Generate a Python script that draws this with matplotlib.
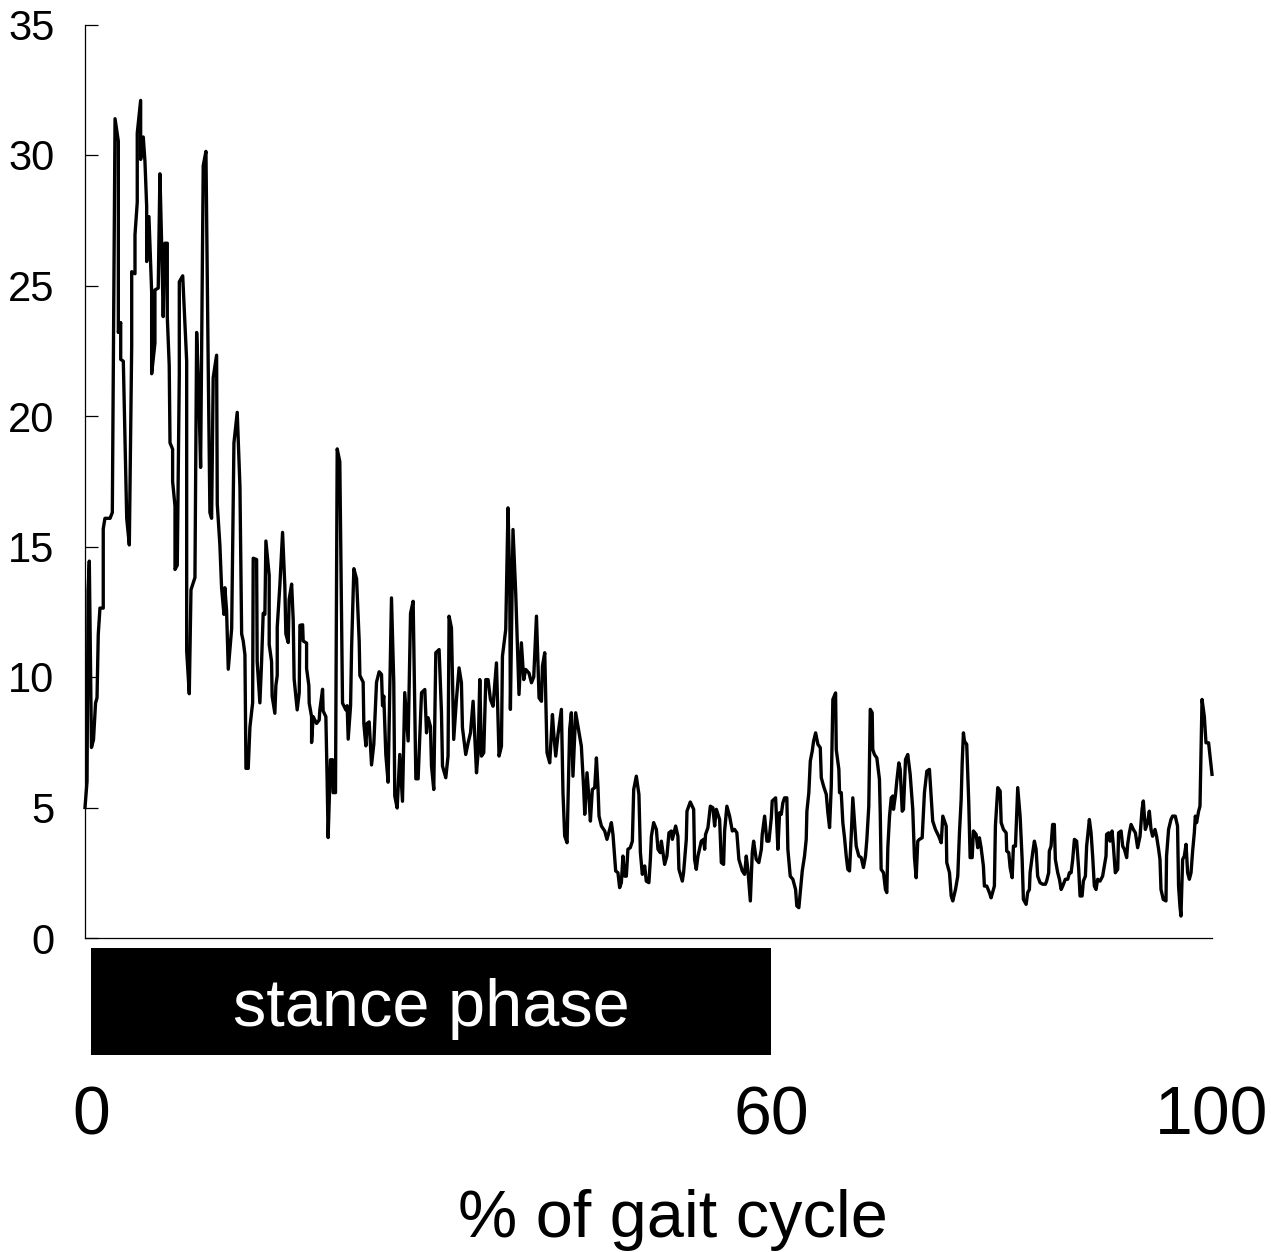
import matplotlib
matplotlib.use("Agg")
import matplotlib.pyplot as plt
import matplotlib.transforms as mtransforms
from matplotlib.patches import Rectangle

plt.rcParams['font.family'] = ['Liberation Sans', 'DejaVu Sans']

# % of gait cycle (x) and signal value (y)
gait_pct = [
    -0.53, -0.35, -0.26, -0.15, 0.04, 0.22, 0.40, 0.53, 0.64, 0.79,
    1.08, 1.08, 1.23, 1.68, 1.88, 2.12, 2.41, 2.41, 2.62, 2.62,
    2.85, 3.15, 3.38, 3.59, 3.59, 3.88, 3.88, 4.08, 4.08, 4.38,
    4.38, 4.61, 4.76, 4.91, 4.91, 5.11, 5.35, 5.35, 5.64, 5.64,
    5.93, 6.08, 6.23, 6.37, 6.52, 6.73, 6.73, 6.90, 6.97, 7.20,
    7.20, 7.41, 7.41, 7.61, 7.79, 7.79, 8.09, 8.44, 8.44, 8.67,
    8.82, 9.17, 9.32, 9.52, 9.67, 9.90, 10.14, 10.34, 10.49, 10.64,
    10.78, 11.08, 11.14, 11.37, 11.52, 11.73, 11.81, 11.96, 12.11, 12.41,
    12.61, 12.90, 13.14, 13.29, 13.43, 13.58, 13.67, 13.87, 14.02, 14.26,
    14.31, 14.61, 14.66, 14.90, 15.05, 15.19, 15.34, 15.43, 15.72, 15.72,
    15.93, 15.98, 16.22, 16.31, 16.43, 16.43, 16.66, 16.90, 17.10, 17.19,
    17.40, 17.48, 17.70, 17.84, 17.92, 18.19, 18.37, 18.43, 18.67, 18.72,
    19.02, 19.02, 19.22, 19.25, 19.46, 19.46, 19.60, 19.90, 20.13, 20.19,
    20.43, 20.48, 20.72, 20.83, 20.92, 21.13, 21.31, 21.36, 21.57, 21.72,
    21.95, 22.19, 22.48, 22.60, 22.69, 22.90, 22.99, 23.19, 23.43, 23.66,
    23.72, 24.01, 24.07, 24.25, 24.36, 24.54, 24.75, 24.95, 25.19, 25.42,
    25.63, 25.72, 25.83, 26.01, 26.21, 26.51, 26.71, 26.80, 27.01, 27.24,
    27.48, 27.68, 27.98, 28.19, 28.42, 28.66, 28.86, 29.16, 29.45, 29.60,
    29.74, 29.95, 30.04, 30.24, 30.42, 30.71, 30.92, 31.01, 31.30, 31.50,
    31.59, 31.80, 32.00, 32.24, 32.47, 32.68, 32.77, 33.06, 33.27, 33.48,
    33.71, 34.01, 34.15, 34.30, 34.45, 34.65, 34.83, 35.03, 35.24, 35.47,
    35.77, 36.00, 36.21, 36.30, 36.59, 36.79, 36.94, 37.00, 37.23, 37.47,
    37.76, 37.97, 38.18, 38.35, 38.64, 38.86, 39.06, 39.30, 39.53, 39.74,
    39.83, 40.03, 40.23, 40.47, 40.71, 40.82, 41.00, 41.20, 41.50, 41.64,
    41.79, 42.00, 42.23, 42.38, 42.52, 42.76, 43.26, 43.47, 43.56, 43.76,
    43.94, 44.06, 44.23, 44.44, 44.59, 44.73, 44.82, 45.03, 45.32, 45.52,
    45.76, 45.91, 46.05, 46.29, 46.49, 46.64, 46.79, 46.93, 47.08, 47.23,
    47.37, 47.58, 47.76, 47.88, 48.11, 48.34, 48.47, 48.64, 48.85, 48.99,
    49.22, 49.35, 49.44, 49.64, 49.88, 50.02, 50.23, 50.32, 50.46, 50.61,
    50.81, 50.99, 51.20, 51.29, 51.58, 51.78, 51.87, 52.17, 52.28, 52.52,
    52.58, 52.87, 53.17, 53.25, 53.40, 53.55, 53.84, 54.05, 54.14, 54.22,
    54.43, 54.64, 54.87, 55.02, 55.17, 55.46, 55.61, 55.81, 55.90, 56.10,
    56.34, 56.58, 56.78, 56.98, 57.16, 57.46, 57.66, 57.81, 57.95, 58.17,
    58.34, 58.46, 58.69, 58.92, 59.14, 59.22, 59.43, 59.63, 59.81, 60.02,
    60.10, 60.40, 60.60, 60.75, 60.90, 61.04, 61.19, 61.39, 61.48, 61.69,
    61.92, 62.16, 62.27, 62.45, 62.57, 62.75, 62.95, 63.10, 63.16, 63.33,
    63.46, 63.63, 63.75, 63.93, 64.13, 64.34, 64.43, 64.63, 64.87, 65.01,
    65.16, 65.31, 65.45, 65.69, 65.75, 65.98, 66.04, 66.19, 66.33, 66.48,
    66.63, 66.77, 66.92, 67.07, 67.21, 67.36, 67.51, 67.74, 67.95, 68.15,
    68.33, 68.45, 68.62, 68.75, 68.92, 68.97, 69.12, 69.33, 69.56, 69.63,
    69.71, 69.92, 70.09, 70.21, 70.30, 70.45, 70.60, 70.74, 70.80, 70.98,
    71.09, 71.27, 71.39, 71.57, 71.68, 71.86, 72.06, 72.27, 72.50, 72.65,
    72.80, 72.94, 73.09, 73.33, 73.53, 73.74, 73.97, 74.12, 74.26, 74.50,
    74.79, 75.01, 75.15, 75.45, 75.50, 75.74, 75.89, 76.03, 76.27, 76.47,
    76.62, 76.77, 76.86, 76.97, 77.06, 77.26, 77.44, 77.56, 77.74, 77.85,
    78.09, 78.23, 78.38, 78.53, 78.73, 78.82, 79.03, 79.26, 79.41, 79.70,
    79.79, 80.00, 80.21, 80.30, 80.50, 80.74, 80.79, 80.97, 81.09, 81.27,
    81.38, 81.56, 81.76, 81.97, 82.15, 82.26, 82.50, 82.64, 82.79, 82.85,
    83.08, 83.23, 83.38, 83.52, 83.73, 83.96, 84.20, 84.31, 84.49, 84.55,
    84.70, 84.84, 84.99, 85.08, 85.29, 85.44, 85.59, 85.73, 85.96, 86.17,
    86.32, 86.47, 86.61, 86.76, 86.96, 87.14, 87.26, 87.44, 87.55, 87.73,
    87.84, 88.08, 88.23, 88.37, 88.52, 88.67, 88.81, 89.02, 89.25, 89.40,
    89.55, 89.60, 89.78, 89.90, 90.08, 90.20, 90.37, 90.58, 90.66, 90.88,
    91.02, 91.17, 91.37, 91.46, 91.61, 91.76, 91.96, 92.14, 92.34, 92.55,
    92.73, 92.84, 93.02, 93.22, 93.37, 93.52, 93.66, 93.87, 94.01, 94.19,
    94.31, 94.40, 94.60, 94.84, 94.89, 95.07, 95.28, 95.42, 95.66, 95.86,
    95.95, 96.07, 96.16, 96.31, 96.46, 96.61, 96.75, 96.90, 97.05, 97.19,
    97.34, 97.43, 97.54, 97.72, 97.84, 98.02, 98.22, 98.37, 98.60, 98.90,
]

signal = [
    5.0, 6.0, 13.3, 14.44, 7.3, 7.6, 9.0, 9.2, 11.63, 12.64,
    12.64, 15.68, 16.08, 16.08, 16.3, 31.39, 30.53, 23.2, 23.58, 22.17,
    22.1, 16.08, 15.06, 22.72, 25.53, 25.45, 26.94, 28.19, 30.84, 32.09,
    29.83, 30.69, 29.75, 28.03, 25.92, 27.64, 24.75, 21.62, 22.79, 24.83,
    24.9, 29.28, 26.62, 23.81, 26.62, 26.62, 23.81, 21.94, 18.97, 18.73,
    17.49, 16.55, 14.12, 14.28, 21.62, 25.14, 25.37, 22.1, 11.0, 9.36,
    13.34, 13.81, 23.2, 20.69, 18.03, 29.59, 30.14, 21.94, 16.3, 16.08,
    21.47, 22.33, 16.62, 15.06, 13.42, 12.4, 13.42, 12.56, 10.3, 11.86,
    18.97, 20.14, 17.3, 11.65, 11.38, 10.85, 6.5, 6.5, 8.08, 9.01,
    14.55, 14.5, 10.59, 9.01, 10.59, 12.44, 12.4, 15.21, 13.89, 11.25,
    10.59, 9.27, 8.61, 9.67, 10.06, 11.91, 13.5, 15.54, 13.5, 11.65,
    11.32, 12.97, 13.56, 12.17, 9.93, 8.74, 9.4, 11.98, 12.0, 11.38,
    11.3, 10.33, 9.67, 9.0, 8.48, 7.49, 8.48, 8.22, 8.35, 8.74,
    9.53, 8.7, 8.48, 6.1, 3.85, 6.83, 6.83, 5.57, 5.57, 18.74,
    18.25, 9.0, 8.74, 8.9, 7.62, 8.9, 11.12, 14.15, 13.76, 11.38,
    10.06, 9.8, 8.22, 7.36, 8.22, 8.28, 6.63, 7.43, 9.8, 10.2,
    10.1, 8.9, 9.27, 7.03, 5.97, 13.03, 9.8, 5.44, 4.98, 7.03,
    5.24, 9.4, 7.55, 12.44, 12.9, 6.1, 6.1, 9.4, 9.52, 7.86,
    8.44, 8.1, 6.59, 5.69, 10.93, 11.05, 8.63, 6.59, 6.14, 6.97,
    12.33, 11.88, 7.61, 9.14, 10.35, 9.78, 8.06, 7.03, 7.48, 7.86,
    9.07, 6.33, 7.1, 9.9, 6.97, 7.1, 9.9, 9.9, 9.14, 8.88,
    10.54, 6.97, 7.35, 10.8, 11.82, 16.48, 13.73, 8.76, 15.65, 13.22,
    9.33, 11.31, 9.9, 10.29, 10.15, 9.78, 10.0, 12.33, 9.2, 9.07,
    10.42, 10.93, 7.1, 6.71, 8.56, 7.86, 6.97, 7.8, 8.76, 5.57,
    3.91, 3.65, 8.0, 8.63, 6.2, 8.63, 7.35, 5.69, 4.74, 6.33,
    5.31, 4.48, 5.69, 5.76, 6.9, 5.76, 4.67, 4.29, 4.1, 3.78,
    4.16, 4.42, 3.97, 2.57, 2.5, 1.93, 2.12, 3.14, 2.37, 2.37,
    3.4, 3.46, 3.71, 5.69, 6.2, 5.5, 3.27, 2.44, 2.76, 2.18,
    2.12, 3.01, 3.9, 4.42, 4.16, 3.4, 3.27, 3.71, 3.27, 2.82,
    3.14, 4.03, 4.1, 3.78, 4.29, 3.9, 2.63, 2.18, 2.5, 3.78,
    4.86, 5.21, 4.93, 3.01, 2.63, 3.14, 3.71, 3.78, 3.4, 3.97,
    4.23, 5.05, 4.99, 4.29, 4.93, 4.54, 2.89, 2.82, 4.1, 5.05,
    4.67, 4.1, 4.16, 4.03, 3.01, 2.57, 2.44, 3.14, 2.63, 1.42,
    3.27, 3.71, 3.01, 2.89, 3.4, 3.97, 4.67, 3.71, 3.71, 4.61,
    5.25, 5.37, 3.4, 4.8, 4.74, 5.18, 5.37, 5.37, 3.4, 2.37,
    2.25, 1.86, 1.23, 1.16, 1.74, 2.57, 3.14, 3.78, 4.86, 5.57,
    6.78, 7.16, 7.54, 7.86, 7.42, 7.29, 6.14, 5.82, 5.5, 4.8,
    4.23, 5.82, 9.14, 9.39, 7.22, 6.46, 5.57, 5.57, 4.42, 3.84,
    3.14, 2.63, 2.57, 3.9, 5.37, 4.42, 3.52, 3.14, 3.08, 2.7,
    3.14, 3.78, 5.05, 8.76, 8.63, 7.22, 7.03, 6.9, 6.08, 4.8,
    2.63, 2.5, 1.86, 1.74, 3.46, 4.67, 5.37, 5.44, 4.93, 5.5,
    6.01, 6.71, 6.46, 4.86, 4.93, 6.84, 7.03, 6.27, 4.93, 3.08,
    2.31, 3.71, 3.78, 3.84, 5.57, 6.39, 6.46, 5.44, 4.48, 4.16,
    3.9, 3.65, 4.67, 4.29, 2.89, 2.5, 1.61, 1.42, 1.86, 2.37,
    4.03, 5.31, 6.71, 7.86, 7.54, 7.42, 5.18, 3.08, 3.08, 4.1,
    3.97, 3.46, 3.84, 3.46, 2.76, 1.99, 1.99, 1.74, 1.54, 1.99,
    4.29, 5.76, 5.63, 4.42, 4.16, 4.03, 3.33, 3.27, 2.7, 2.31,
    3.52, 3.52, 5.76, 4.67, 3.01, 1.48, 1.29, 1.74, 1.86, 2.5,
    3.27, 3.71, 3.4, 2.37, 2.12, 2.06, 2.06, 2.18, 2.5, 3.33,
    3.52, 4.35, 4.35, 3.01, 2.5, 2.25, 1.86, 1.99, 2.25, 2.25,
    2.5, 2.5, 3.01, 3.78, 3.71, 2.63, 1.61, 1.61, 2.18, 2.37,
    3.52, 4.54, 4.03, 3.14, 1.99, 1.86, 2.25, 2.18, 2.37, 2.76,
    3.14, 3.97, 4.03, 3.71, 4.1, 3.52, 2.5, 2.63, 4.03, 4.1,
    3.52, 3.4, 3.08, 3.59, 4.03, 4.35, 4.16, 4.03, 3.46, 3.9,
    4.93, 5.25, 4.16, 4.42, 4.86, 4.16, 3.9, 4.16, 3.9, 3.4,
    3.01, 1.86, 1.48, 1.42, 3.14, 4.16, 4.54, 4.67, 4.67, 4.29,
    1.99, 1.23, 0.84, 3.01, 3.14, 3.59, 2.5, 2.25, 2.5, 3.33,
    4.03, 4.67, 4.42, 4.86, 5.05, 9.14, 8.5, 7.48, 7.48, 6.27,
]

y_ticks = [0, 5, 10, 15, 20, 25, 30, 35]
x_tick_values = [0, 60]
x_tick_labels = ["0", "60"]
x_end_label = "100"
stance_start = 0
stance_end = 60
stance_label = "stance phase"
x_title = "% of gait cycle"

W, H = 1271, 1252
fig = plt.figure(figsize=(W / 100, H / 100), dpi=100)
ax = fig.add_axes([85 / W, (H - 938) / H, 1127 / W, (938 - 24.5) / H])

ax.plot(gait_pct, signal, color="black", lw=2.4, clip_on=False)
ax.set_xlim(-0.53, 98.9)
ax.set_ylim(0, 35)

for s in ["top", "right"]:
    ax.spines[s].set_visible(False)
for s in ["left", "bottom"]:
    ax.spines[s].set_linewidth(0.9)

ax.set_yticks(y_ticks)
ax.set_yticklabels([str(v) for v in y_ticks], fontsize=30)
ax.tick_params(axis="y", direction="in", length=9, width=0.9, pad=22)
ax.set_xticks([])

blend = mtransforms.blended_transform_factory(ax.transData, ax.transAxes)

# stance phase bar
ax.add_patch(Rectangle((stance_start, -0.1281), stance_end - stance_start, 0.1171,
                       transform=blend, facecolor="black", edgecolor="none",
                       clip_on=False))
ax.text((stance_start + stance_end) / 2, -0.0963, stance_label, transform=blend,
        ha="center", va="baseline", color="white", fontsize=48)

# x tick labels
for v, lab in zip(x_tick_values, x_tick_labels):
    ax.text(v, -0.2146, lab, transform=blend, ha="center", va="baseline",
            fontsize=49)
ax.text(1.0, -0.2146, x_end_label, transform=ax.transAxes, ha="center",
        va="baseline", fontsize=49)

ax.text(0.5217, -0.3273, x_title, transform=ax.transAxes, ha="center",
        va="baseline", fontsize=48)

fig.savefig("out.png", dpi=100)
